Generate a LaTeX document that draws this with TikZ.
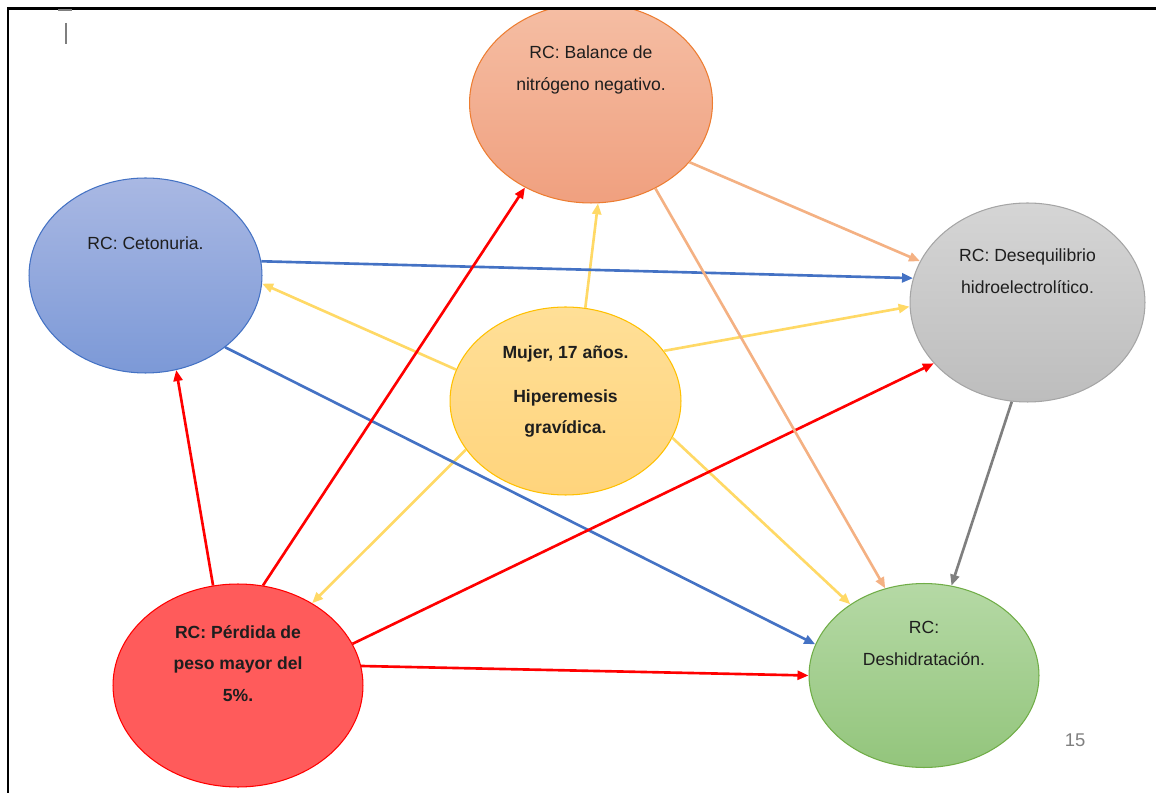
\documentclass[tikz,border=0pt]{standalone}
\usepackage{fontspec}
\setmainfont{Liberation Sans}
\usetikzlibrary{arrows.meta,shapes.geometric}
\definecolor{balTop}{HTML}{F5BEA4}
\definecolor{balBot}{HTML}{F0A07F}
\definecolor{balLine}{HTML}{ED7D31}
\definecolor{cetTop}{HTML}{A9B8E3}
\definecolor{cetBot}{HTML}{7C99D7}
\definecolor{cetLine}{HTML}{4472C4}
\definecolor{desTop}{HTML}{D5D5D5}
\definecolor{desBot}{HTML}{BDBDBD}
\definecolor{desLine}{HTML}{A5A5A5}
\definecolor{mujTop}{HTML}{FFDF97}
\definecolor{mujBot}{HTML}{FFD47C}
\definecolor{mujLine}{HTML}{FFC000}
\definecolor{perFill}{HTML}{FF5B5B}
\definecolor{dshTop}{HTML}{B5D9A5}
\definecolor{dshBot}{HTML}{93C57C}
\definecolor{dshLine}{HTML}{70AD47}
\definecolor{arrYellow}{HTML}{FFD966}
\definecolor{arrBlue}{HTML}{4472C4}
\definecolor{arrRed}{HTML}{FF0000}
\definecolor{arrOrange}{HTML}{F4B183}
\definecolor{arrGray}{HTML}{7F7F7F}
\definecolor{txtdark}{HTML}{1E1E1E}
\tikzset{
  rc/.style={ellipse, inner sep=0pt, line width=0.6pt},
  lbl/.style={align=center, font=\fontsize{10}{18}\selectfont, text=txtdark},
  lblbold/.style={lbl, font=\fontsize{10}{18}\selectfont\bfseries},
  arrow/.style={-{Triangle[length=2.2mm,width=1.8mm]}, line width=1.5pt},
  yel/.style={arrow, draw=arrYellow, fill=arrYellow},
  blu/.style={arrow, draw=arrBlue, fill=arrBlue},
  red/.style={arrow, draw=arrRed, fill=arrRed},
  ora/.style={arrow, draw=arrOrange, fill=arrOrange},
  gry/.style={arrow, draw=arrGray, fill=arrGray}
}

\begin{document}
\begin{tikzpicture}[x=0.02cm, y=-0.02cm]
  \useasboundingbox (0,0) rectangle (1156,793);
  \begin{scope}
    \clip (8,9) rectangle (1156,793);
    % ellipses
    \node[rc, minimum width=4.86cm, minimum height=4.0cm, top color=balTop, bottom color=balBot, draw=balLine,
      label={[lbl, yshift=0.66cm]center:{RC: Balance de\\nitrógeno negativo.}}] (bal) at (591,103) {};
    \node[rc, minimum width=4.66cm, minimum height=3.9cm, top color=cetTop, bottom color=cetBot, draw=cetLine,
      label={[lbl, yshift=0.65cm]center:{RC: Cetonuria.}}] (cet) at (145.5,275.5) {};
    \node[rc, minimum width=4.7cm, minimum height=3.98cm, top color=desTop, bottom color=desBot, draw=desLine,
      label={[lbl, yshift=0.63cm]center:{RC: Desequilibrio\\hidroelectrolítico.}}] (des) at (1027.5,302.5) {};
    \node[rc, minimum width=4.62cm, minimum height=3.76cm, top color=mujTop, bottom color=mujBot, draw=mujLine,
      label={[lblbold, yshift=0.19cm]center:{Mujer, 17 años.\\[7pt]Hiperemesis\\gravídica.}}] (muj) at (565.5,401) {};
    \node[rc, minimum width=5.0cm, minimum height=4.06cm, fill=perFill, draw=arrRed,
      label={[lblbold, yshift=0.44cm]center:{RC: Pérdida de\\peso mayor del\\5\%.}}] (per) at (238,685.5) {};
    \node[rc, minimum width=4.6cm, minimum height=3.68cm, top color=dshTop, bottom color=dshBot, draw=dshLine,
      label={[lbl, yshift=0.64cm]center:{RC:\\Deshidratación.}}] (dsh) at (924,675.5) {};

    % connectors
    \foreach \a/\b/\c in {muj.78/bal.274/yel, muj.164/cet.356/yel, muj.27/des.182/yel,
                          muj.206/per.48/yel, muj.341/dsh.136/yel,
                          cet.7.5/des.168/blu, cet.318.5/dsh.164/blu,
                          per.104/cet.288/red, per.76/bal.232/red, per.20/des.213/red, per.9/dsh.180/red,
                          bal.329/des.159/ora, bal.307/dsh.114/ora,
                          des.261/dsh.73/gry}
      \draw[\c] (\a) -- (\b);
  \end{scope}

  % frame and page marks
  \draw[line width=1.2pt] (8,793) -- (8,8.5) -- (1156,8.5);
  \draw[arrGray, line width=1pt] (58,10) -- (72,10);
  \draw[arrGray, line width=0.6pt] (66,23) -- (66,44);
  \node[font=\fontsize{10.5}{12}\selectfont, text=arrGray] (page) at (1075,740) {15};
\end{tikzpicture}
\end{document}
